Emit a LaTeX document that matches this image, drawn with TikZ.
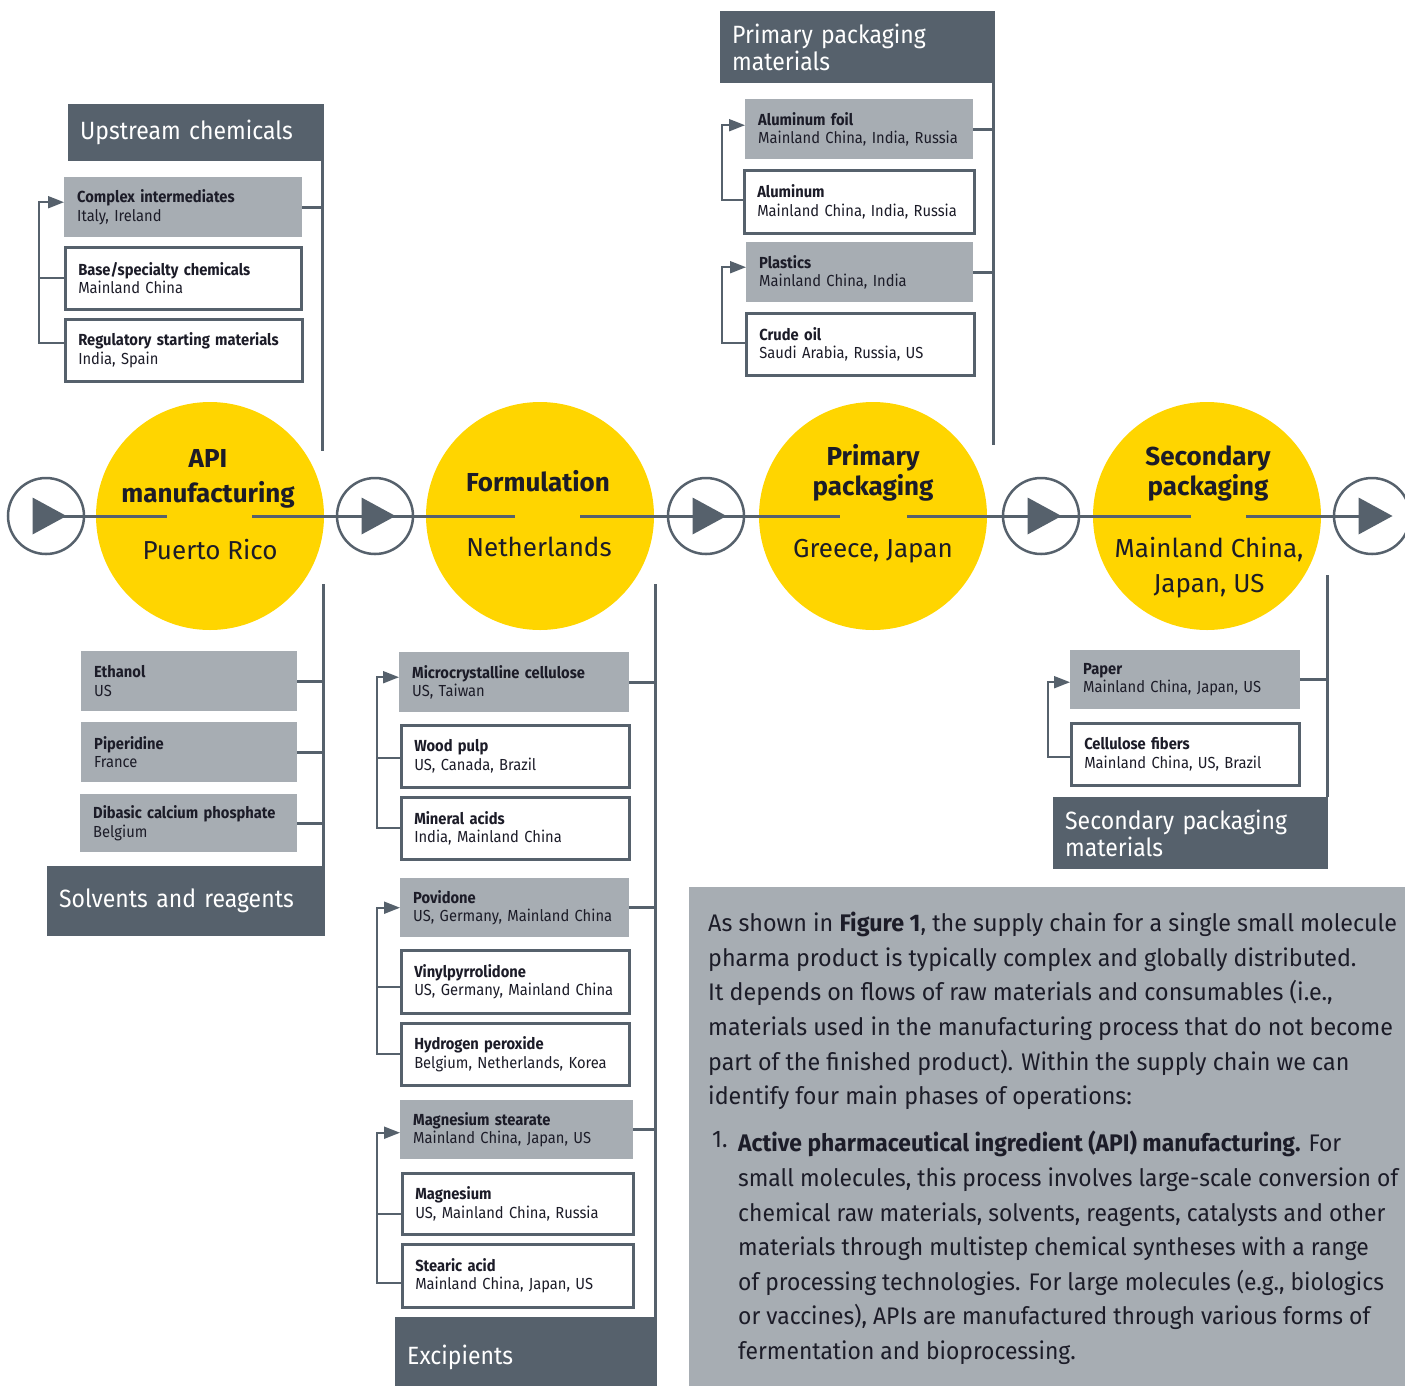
\documentclass[tikz,border=0pt]{standalone}
\usepackage{fontspec}
\setmainfont{Fira Sans}[FakeStretch=0.92]
\newfontfamily\circfont{Fira Sans}
\newfontfamily\parafont{Fira Sans}[FakeStretch=0.97]
\newfontfamily\itemfont{Fira Sans}[FakeStretch=0.953]
\usetikzlibrary{arrows.meta,calc}
\definecolor{slate}{HTML}{56616C}
\definecolor{gbx}{HTML}{A7ADB3}
\definecolor{txt}{HTML}{1C1C28}
\definecolor{ey}{HTML}{FFD500}
\newcommand\matl[2]{\mbox{\bfseries #1}\\\mbox{#2}}
\begin{document}
\begin{tikzpicture}[x=1pt,y=-1pt,
  box/.style={inner xsep=13pt, inner ysep=0pt, align=left, anchor=north west, text=txt, font=\fontsize{16}{18.5}\selectfont},
  gbox/.style={box, fill=gbx, text width=#1},
  wbox/.style={box, fill=white, draw=slate, line width=2.5pt, text width=#1},
  hdr/.style={anchor=north west, fill=slate, text=white, inner xsep=12pt, inner ysep=0pt, align=left, font=\fontsize{25}{27.5}\selectfont, text width=#1},
  trunk/.style={draw=slate, line width=3pt},
  brk/.style={draw=slate, line width=2pt},
  brka/.style={brk, -{Triangle[length=16pt,width=12pt]}},
  flow/.style={draw=slate, line width=3pt},
  ring/.style={circle, draw=slate, line width=2.5pt, fill=white, minimum size=76pt, inner sep=0pt},
  phase/.style={circle, fill=ey, minimum size=228pt, inner sep=0pt},
  ttl/.style={anchor=base, font=\circfont\bfseries\fontsize{26}{30}\selectfont, text=txt, inner sep=0pt},
  ctry/.style={anchor=base, font=\circfont\fontsize{26}{30}\selectfont, text=txt, inner sep=0pt},
  para/.style={anchor=north west, inner sep=0pt, align=left, text=txt, font=\parafont\fontsize{24}{34.6}\selectfont},
  itm/.style={anchor=north west, inner sep=0pt, align=left, text=txt, font=\itemfont\fontsize{24}{34.6}\selectfont}
]
\useasboundingbox (0,0) rectangle (1405,1385);

% ---------- phases ----------
\node[phase] (api) at (210,516) {};
\node[phase] (frm) at (540,516) {};
\node[phase] (prm) at (873,516) {};
\node[phase] (sec) at (1207,516) {};

\node[ring] (a1) at (46,516) {};
\node[ring] (a2) at (375,516) {};
\node[ring] (a3) at (706,516) {};
\node[ring] (a4) at (1041,516) {};
\node[ring] (a5) at (1372,516) {};

\coordinate (g1a) at (167,516); \coordinate (g1b) at (252,516);
\coordinate (g2a) at (515,516); \coordinate (g2b) at (580,516);
\coordinate (g3a) at (840,516); \coordinate (g3b) at (907,516);
\coordinate (g4a) at (1191,516); \coordinate (g4b) at (1246,516);

\draw[flow] (a1.center) -- (g1a);
\draw[flow] (g1b) -- (a2.center);
\draw[flow] (a2.center) -- (g2a);
\draw[flow] (g2b) -- (a3.center);
\draw[flow] (a3.center) -- (g3a);
\draw[flow] (g3b) -- (a4.center);
\draw[flow] (a4.center) -- (g4a);
\draw[flow] (g4b) -- (a5.center);

\foreach \r in {a1,a2,a3,a4,a5}
  \fill[slate] ($(\r.center)+(-13.5,-18.5)$) -- ($(\r.center)+(20.5,0)$) -- ($(\r.center)+(-13.5,18.5)$) -- cycle;

\node[ttl] (t1a) at (208,467) {API};
\node[ttl] (t1b) at (208,502) {manufacturing};
\node[ctry] (c1) at (210,559) {Puerto Rico};
\node[ttl] (t2) at (538,491) {Formulation};
\node[ctry] (c2) at (539,556) {Netherlands};
\node[ttl] (t3a) at (873,465) {Primary};
\node[ttl] (t3b) at (873,495) {packaging};
\node[ctry] (c3) at (873,557) {Greece, Japan};
\node[ttl] (t4a) at (1208,465) {Secondary};
\node[ttl] (t4b) at (1208,495) {packaging};
\node[ctry] (c4a) at (1209,557) {Mainland China,};
\node[ctry] (c4b) at (1209,592) {Japan, US};

% ---------- upstream chemicals ----------
\node[hdr=232pt, minimum height=57pt] (uh) at (68,104) {Upstream chemicals};
\node[gbox=212pt, minimum height=60pt] (ci) at (64,177) {\matl{Complex intermediates}{Italy, Ireland}};
\node[wbox=210pt, minimum height=62pt] (bs) at (64,246) {\matl{Base/specialty chemicals}{Mainland China}};
\node[wbox=211pt, minimum height=62pt] (rsm) at (64,318) {\matl{Regulatory starting materials}{India, Spain}};
\coordinate (ut1) at (322,160); \coordinate (ut2) at (322,451);
\draw[trunk] (ut1) -- (ut2);
\draw[trunk] (ci.east) -- (ci.east -| ut2);
\coordinate (ub) at (39,0);
\draw[brka] ([yshift=7pt]rsm.west) -- ([yshift=7pt]rsm.west -| ub) |- ([yshift=5pt]ci.west);
\draw[brk] (bs.west) -- (bs.west -| ub);

% ---------- solvents and reagents ----------
\node[gbox=190pt, minimum height=60pt] (eth) at (81,651) {\matl{Ethanol}{US}};
\node[gbox=190pt, minimum height=60pt] (pip) at (81,722) {\matl{Piperidine}{France}};
\node[gbox=191pt, minimum height=58pt] (dcp) at (80,794) {\matl{Dibasic calcium phosphate}{Belgium}};
\node[hdr=254pt, minimum height=70pt] (sh) at (47,866) {Solvents and reagents};
\coordinate (st1) at (323,584); \coordinate (st2) at (323,866);
\draw[trunk] (st1) -- (st2);
\draw[trunk] (eth.east) -- (eth.east -| st1);
\draw[trunk] (pip.east) -- (pip.east -| st1);
\draw[trunk] (dcp.east) -- (dcp.east -| st1);

% ---------- excipients ----------
\node[gbox=204pt, minimum height=60pt] (mcc) at (399,652) {\matl{Microcrystalline cellulose}{US, Taiwan}};
\node[wbox=202pt, minimum height=62pt] (wp) at (400,724) {\matl{Wood pulp}{US, Canada, Brazil}};
\node[wbox=202pt, minimum height=62pt] (ma) at (400,796) {\matl{Mineral acids}{India, Mainland China}};
\node[gbox=203pt, minimum height=59pt] (pov) at (400,878) {\matl{Povidone}{US, Germany, Mainland China}};
\node[wbox=202pt, minimum height=63pt] (vp) at (400,949) {\matl{Vinylpyrrolidone}{US, Germany, Mainland China}};
\node[wbox=202pt, minimum height=62pt] (hp) at (400,1022) {\matl{Hydrogen peroxide}{Belgium, Netherlands, Korea}};
\node[gbox=207pt, minimum height=59pt] (ms) at (400,1100) {\matl{Magnesium stearate}{Mainland China, Japan, US}};
\node[wbox=205pt, minimum height=61pt] (mg) at (401,1172) {\matl{Magnesium}{US, Mainland China, Russia}};
\node[wbox=205pt, minimum height=63pt] (sa) at (401,1243) {\matl{Stearic acid}{Mainland China, Japan, US}};
\node[hdr=238pt, minimum height=80pt] (eh) at (395,1317) {Excipients};
\coordinate (et1) at (655,584); \coordinate (et2) at (655,1317);
\draw[trunk] (et1) -- (et2);
\draw[trunk] (mcc.east) -- (mcc.east -| et1);
\draw[trunk] (pov.east) -- (pov.east -| et1);
\draw[trunk] (ms.east) -- (ms.east -| et1);
\coordinate (eb) at (377,0);
\draw[brka] (ma.west) -- (ma.west -| eb) |- ([yshift=5pt]mcc.west);
\draw[brk] ([yshift=-2pt]wp.west) -- ([yshift=-2pt]wp.west -| eb);
\draw[brka] (hp.west) -- (hp.west -| eb) |- (pov.west);
\draw[brk] ([yshift=-5pt]vp.west) -- ([yshift=-5pt]vp.west -| eb);
\draw[brka] ([yshift=-7pt]sa.west) -- ([yshift=-7pt]sa.west -| eb) |- ([yshift=-3pt]ms.west);
\draw[brk] ([yshift=-10pt]mg.west) -- ([yshift=-10pt]mg.west -| eb);

% ---------- primary packaging materials ----------
\node[hdr=251pt, minimum height=72pt] (ph) at (720,11) {Primary packaging\\materials};
\node[gbox=202pt, minimum height=60pt] (af) at (745,99) {\matl{Aluminum foil}{Mainland China, India, Russia}};
\node[wbox=204pt, minimum height=63pt] (al) at (743,169) {\matl{Aluminum}{Mainland China, India, Russia}};
\node[gbox=201pt, minimum height=60pt] (pl) at (746,242) {\matl{Plastics}{Mainland China, India}};
\node[wbox=202pt, minimum height=62pt] (co) at (745,312) {\matl{Crude oil}{Saudi Arabia, Russia, US}};
\coordinate (pt1) at (993,83); \coordinate (pt2) at (993,445);
\draw[trunk] (pt1) -- (pt2);
\draw[trunk] (af.east) -- (af.east -| pt1);
\draw[trunk] (pl.east) -- (pl.east -| pt1);
\coordinate (pb) at (722,0);
\draw[brka] ([yshift=1.5pt]al.west) -- ([yshift=1.5pt]al.west -| pb) |- ([yshift=4pt]af.west);
\draw[brka] ([yshift=1pt]co.west) -- ([yshift=1pt]co.west -| pb) |- ([yshift=5pt]pl.west);

% ---------- secondary packaging materials ----------
\node[gbox=204pt, minimum height=59pt] (pa) at (1070,650) {\matl{Paper}{Mainland China, Japan, US}};
\node[wbox=202pt, minimum height=62pt] (cf) at (1070,722) {\matl{Cellulose fibers}{Mainland China, US, Brazil}};
\node[hdr=251pt, minimum height=72pt] (sph) at (1053,797) {Secondary packaging\\materials};
\coordinate (xt1) at (1327,575); \coordinate (xt2) at (1327,797);
\draw[trunk] (xt1) -- (xt2);
\draw[trunk] (pa.east) -- (pa.east -| xt1);
\coordinate (xb) at (1048,0);
\draw[brka] ([yshift=-3pt]cf.west) -- ([yshift=-3pt]cf.west -| xb) |- ([yshift=-2.5pt]pa.west);

% ---------- text block ----------
\node[fill=gbx, anchor=north west, minimum width=730pt, minimum height=510pt, inner sep=0pt] (tb) at (689,887) {};
\node[para] (p1) at (708,912) {As shown in \textbf{Figure 1}, the supply chain for a single small molecule\\
pharma product is typically complex and globally distributed.\\
It depends on flows of raw materials and consumables (i.e.,\\
materials used in the manufacturing process that do not become\\
part of the finished product). Within the supply chain we can\\
identify four main phases of operations:};
\node[itm] (n1) at (712,1131) {1.};
\node[itm] (p2) at (738,1131) {\textbf{Active pharmaceutical ingredient (API) manufacturing.} For\\
small molecules, this process involves large-scale conversion of\\
chemical raw materials, solvents, reagents, catalysts and other\\
materials through multistep chemical syntheses with a range\\
of processing technologies. For large molecules (e.g., biologics\\
or vaccines), APIs are manufactured through various forms of\\
fermentation and bioprocessing.};
\end{tikzpicture}
\end{document}
